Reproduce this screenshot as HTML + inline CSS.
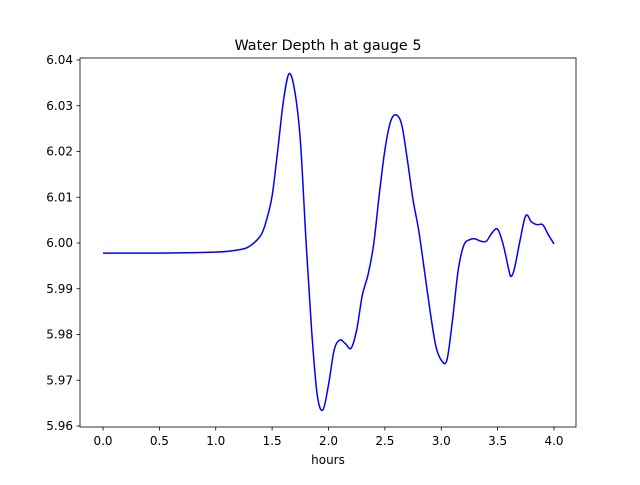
<!DOCTYPE html>
<html><head><meta charset="utf-8"><style>
body{margin:0;background:#fff;font-family:"Liberation Sans","DejaVu Sans",sans-serif;}
svg text{font-family:"DejaVu Sans","Liberation Sans",sans-serif;font-size:12px;fill:#000}
</style></head><body>
<svg width="640" height="480" id="c">
<rect width="640" height="480" fill="#fff"/>
<text x="328" y="50" text-anchor="middle" style="font-size:14.4px">Water Depth h at gauge 5</text>
<text x="328" y="464" text-anchor="middle">hours</text>
<g id="ticks"></g>
<path id="line" fill="none" stroke="#0000ff" stroke-width="1.5"/>
<rect x="80" y="58" width="496" height="369" fill="none" stroke="#000" stroke-width="0.8"/>
</svg>
<script>
const hours=[0,0.5,1.0,1.2,1.3,1.4,1.45,1.5,1.55,1.6,1.65,1.7,1.75,1.8,1.85,1.9,1.95,2.0,2.05,2.1,2.15,2.2,2.25,2.3,2.35,2.4,2.45,2.5,2.55,2.6,2.65,2.7,2.75,2.8,2.85,2.9,2.95,3.0,3.05,3.1,3.15,3.2,3.25,3.3,3.35,3.4,3.45,3.5,3.55,3.6,3.62,3.65,3.7,3.75,3.8,3.85,3.9,3.95,4.0];
const depth=[5.9978,5.9978,5.998,5.9985,5.9993,6.0017,6.005,6.0103,6.0203,6.031,6.037,6.0333,6.0225,6.0007,5.981,5.9668,5.9635,5.969,5.9766,5.9788,5.978,5.977,5.981,5.9886,5.993,5.9996,6.0105,6.0203,6.0265,6.028,6.0258,6.0181,6.0094,6.0028,5.9941,5.9853,5.9777,5.9744,5.9744,5.9832,5.994,5.9995,6.0007,6.0009,6.0004,6.0004,6.0022,6.003,5.9996,5.994,5.9927,5.9945,6.0007,6.006,6.0046,6.004,6.004,6.0018,5.9998];
const xTicks=[0,0.5,1.0,1.5,2.0,2.5,3.0,3.5,4.0];
const yTicks=[5.96,5.97,5.98,5.99,6.00,6.01,6.02,6.03,6.04];
const X=v=>103+v*112.75;
const Y=v=>243-(v-6.0)*4575;
const ns="http://www.w3.org/2000/svg";
const g=document.getElementById('ticks');
function mk(t,a){const e=document.createElementNS(ns,t);for(const k in a)e.setAttribute(k,a[k]);g.appendChild(e);return e;}
xTicks.forEach(v=>{
 const l=mk('line',{x1:X(v),x2:X(v),y1:427,y2:430.5,stroke:'#000','stroke-width':0.8});
 
 
 const t=mk('text',{x:X(v),y:445,'text-anchor':'middle'});t.textContent=v.toFixed(1);
 
 
});
yTicks.forEach(v=>{
 const l=mk('line',{x1:76.5,x2:80,y1:Y(v),y2:Y(v),stroke:'#000','stroke-width':0.8});
 
 
 const t=mk('text',{x:73,y:Y(v)+4,'text-anchor':'end'});t.textContent=v.toFixed(2);
 
 
});
const P=hours.map((h,i)=>[X(h),Y(depth[i])]);
let d='M'+P[0][0]+','+P[0][1];
for(let i=0;i<P.length-1;i++){
 const p0=P[Math.max(0,i-1)],p1=P[i],p2=P[i+1],p3=P[Math.min(P.length-1,i+2)];
 const c1=[p1[0]+(p2[0]-p0[0])/6,p1[1]+(p2[1]-p0[1])/6];
 const c2=[p2[0]-(p3[0]-p1[0])/6,p2[1]-(p3[1]-p1[1])/6];
 d+=` C${c1[0]},${c1[1]} ${c2[0]},${c2[1]} ${p2[0]},${p2[1]}`;
}
document.getElementById('line').setAttribute('d',d);
</script>
</body></html>
